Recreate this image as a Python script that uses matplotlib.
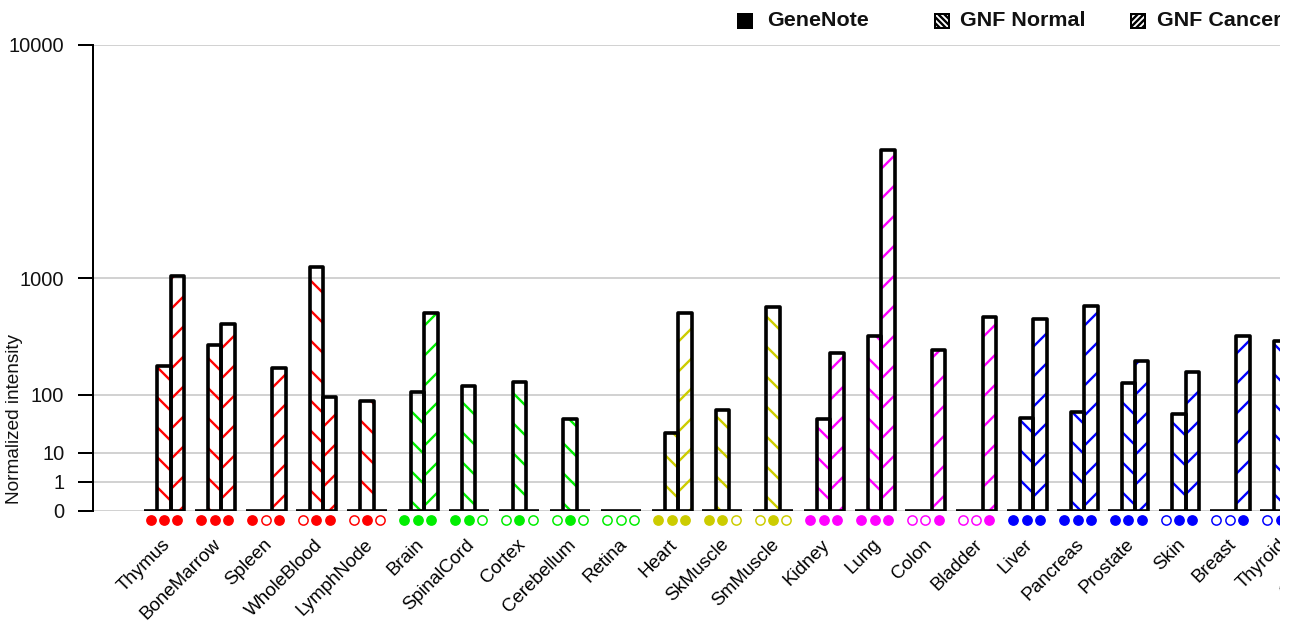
import numpy as np
import matplotlib
matplotlib.use("Agg")
import matplotlib.pyplot as plt
from matplotlib.patches import Rectangle
from matplotlib.transforms import blended_transform_factory

nan = np.nan

# ---- data -------------------------------------------------------------
tissues = ["Thymus", "BoneMarrow", "Spleen", "WholeBlood", "LymphNode",
           "Brain", "SpinalCord", "Cortex", "Cerebellum", "Retina",
           "Heart", "SkMuscle", "SmMuscle",
           "Kidney", "Lung", "Colon", "Bladder",
           "Liver", "Pancreas", "Prostate", "Skin", "Breast", "Thyroid", "Stomach"]
tissue_group = ["immune"] * 5 + ["neural"] * 5 + ["muscle"] * 3 + \
               ["visceral"] * 4 + ["gland"] * 7

genenote = [0, 0, 0, 0, 0, 0, 0, 0, 0, 0, 0, 0, 0,
            0, 0, 0, 0, 0, 0, 0, 0, 0, 0, nan]
gnf_normal = [205, 324, 0, 1165, 83,
              106, 127, 141, 45, 0,
              26, 62, 640,
              45, 388, 0, 0,
              47, 58, 135, 54, 0, 351, nan]
gnf_cancer = [1030, 478, 196, 92, 0,
              580, 0, 0, 0, 0,
              580, 0, 0,
              273, 4300, 293, 546,
              522, 656, 231, 180, 388, nan, nan]
# presence calls (GeneNote, GNF Normal, GNF Cancer): 1 present, 0 absent, ? unknown
presence = ["111", "111", "101", "011", "010",
            "111", "110", "010", "010", "000",
            "111", "110", "010",
            "111", "111", "001", "001",
            "111", "111", "111", "011", "001", "01?", "???"]

series_names = ["GeneNote", "GNF Normal", "GNF Cancer"]
y_ticks = [0, 1, 10, 100, 1000, 10000]

group_colors = {"immune": "#ff0000", "neural": "#00ee00", "muscle": "#cccc00",
                "visceral": "#ff00ff", "gland": "#0000ff"}

# ---- figure -------------------------------------------------------------
W, H, DPI = 1295, 623, 180
plt.rcParams["font.family"] = ["Liberation Sans", "DejaVu Sans"]
plt.rcParams["hatch.linewidth"] = 0.95
fig = plt.figure(figsize=(W / DPI, H / DPI), dpi=DPI)
fig.patch.set_facecolor("white")

ax_left, ax_right, ax_top, ax_bottom = 93, 1280, 45, 511
ax = fig.add_axes([ax_left / W, 1 - ax_bottom / H,
                   (ax_right - ax_left) / W, (ax_bottom - ax_top) / H])

# compressed power scale: every decade gets twice the room of the previous one
P = np.log10(2.0)


def fwd(v):
    v = np.asarray(v, dtype=float)
    return np.sign(v) * np.abs(v) ** P


def inv(v):
    v = np.asarray(v, dtype=float)
    return np.sign(v) * np.abs(v) ** (1.0 / P)


ax.set_yscale("function", functions=(fwd, inv))
ax.set_ylim(0, 10000)
ax.set_xlim(-1.40, 21.99)

x = np.arange(len(tissues))
bw = 0.263
offsets = [-bw, 0.0, bw]
hatches = [None, "\\\\", "//"]
series = [np.array(genenote, float), np.array(gnf_normal, float),
          np.array(gnf_cancer, float)]
colors = [group_colors[g] for g in tissue_group]

for k, (vals, off, hatch) in enumerate(zip(series, offsets, hatches)):
    ok = np.isfinite(vals)
    xs = x[ok] + off
    hs = vals[ok]
    cs = [c for c, m in zip(colors, ok) if m]
    if hatch is None:
        ax.bar(xs, hs, width=bw, color="black", edgecolor="black",
               linewidth=1.45, zorder=3, joinstyle="round")
    else:
        # coloured hatch layer, then black outline on top
        ax.bar(xs, hs, width=bw, facecolor="none", edgecolor=cs,
               hatch=hatch, linewidth=0, zorder=2)
        ax.bar(xs, hs, width=bw, facecolor="none", edgecolor="black",
               linewidth=1.45, zorder=3, joinstyle="round")

# presence dots under each bar
trans = blended_transform_factory(ax.transData, ax.transAxes)
dot_y = -9 / (ax_bottom - ax_top)
for i, calls in enumerate(presence):
    for k, c in enumerate(calls):
        if c == "?":
            continue
        filled = c == "1"
        ax.plot(x[i] + offsets[k], dot_y, marker="o", markersize=3.7,
                markeredgewidth=0.6, markeredgecolor=colors[i],
                markerfacecolor=colors[i] if filled else "white",
                transform=trans, clip_on=False, zorder=4)

# rotated tissue names
lab_y = -25 / (ax_bottom - ax_top)
for i, name in enumerate(tissues):
    ax.text(x[i] + 0.19, lab_y, name, rotation=45, ha="right", va="top",
            fontsize=7.5, color="black", transform=trans, clip_on=False)

# axes styling
for s in ["top", "right", "bottom"]:
    ax.spines[s].set_visible(False)
ax.spines["left"].set_linewidth(0.8)
ax.set_yticks(y_ticks)
ax.set_yticklabels([str(t) for t in y_ticks])
ax.tick_params(axis="y", length=6, width=0.8, pad=5.5, labelsize=8,
               labelcolor="#111111")
ax.set_xticks([])
ax.yaxis.grid(True, color="#c4c4c4", linewidth=0.6)
ax.set_axisbelow(True)

fig.text(15 / W, 1 - 419 / H, "Normalized intensity", rotation=90,
         ha="center", va="center", fontsize=7.6, color="#111111")

# legend
leg_items = [(738, 767, "black", None, "GeneNote"),
             (935, 960, "white", "\\" * 10, "GNF Normal"),
             (1131, 1157, "white", "/" * 10, "GNF Cancer")]
box = 14
leg_cy = 21
for bx, tx, face, hatch, label in leg_items:
    r = Rectangle((bx / W, 1 - (leg_cy + box / 2) / H), box / W, box / H,
                  transform=fig.transFigure, facecolor=face,
                  edgecolor="black", hatch=hatch, linewidth=0.8)
    fig.add_artist(r)
    fig.text(tx / W, 1 - leg_cy / H, label, ha="left", va="center",
             fontsize=8.6, fontweight="bold", color="#111111")

# the drawing area stops at the right border column
fig.add_artist(Rectangle((ax_right / W, 0), 1 - ax_right / W, 1,
                         transform=fig.transFigure, facecolor="white",
                         edgecolor="none", zorder=50))

fig.savefig("out.png", dpi=DPI)
